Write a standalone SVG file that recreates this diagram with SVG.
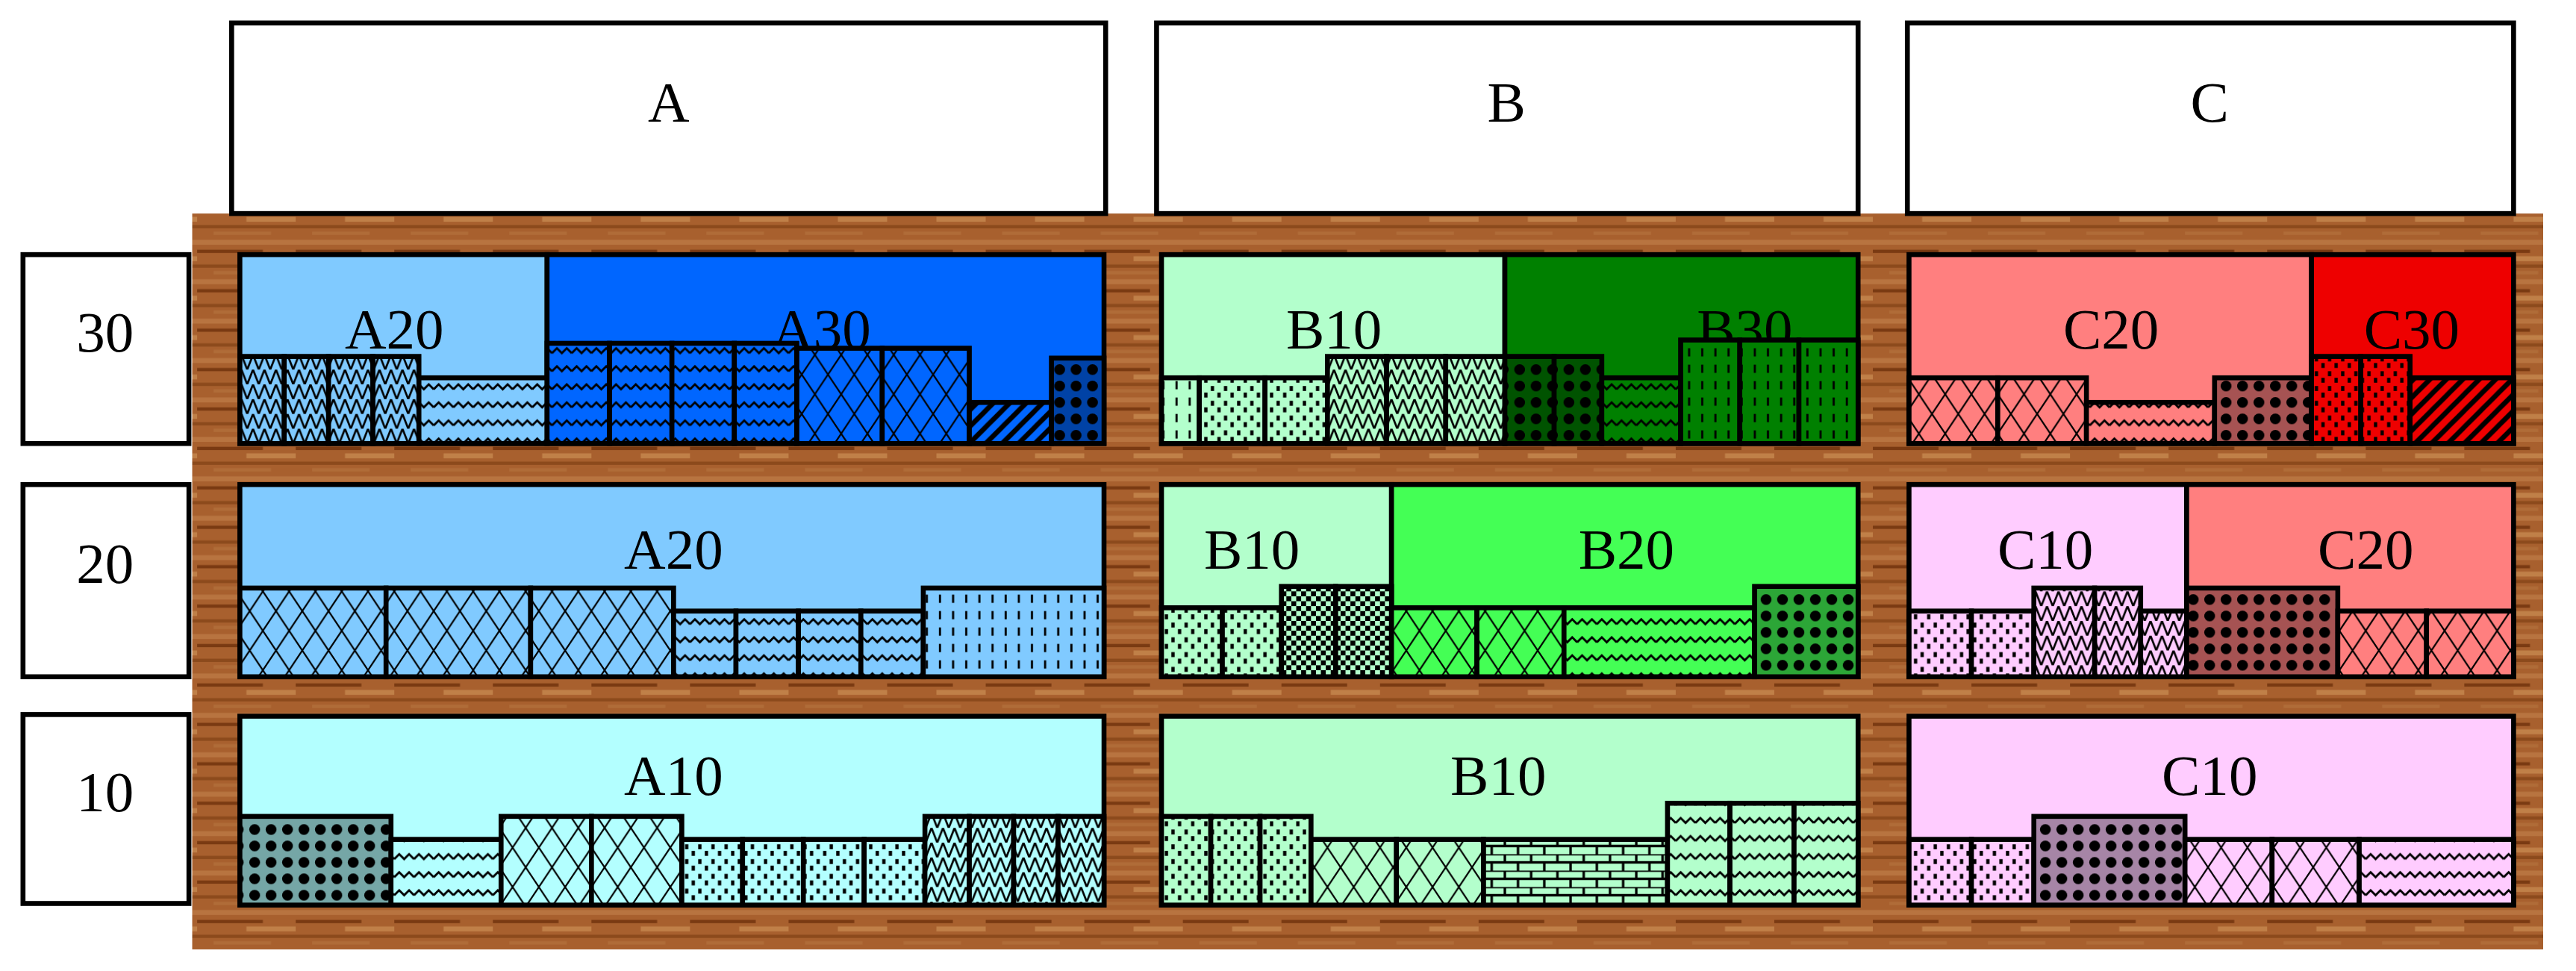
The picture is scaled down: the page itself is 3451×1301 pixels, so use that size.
<svg xmlns="http://www.w3.org/2000/svg" width="3451" height="1301" viewBox="0 0 3451 1301">
<style>
.hdr{fill:#fff;stroke:#000;stroke-width:3}
.t{font-family:"Liberation Serif",serif;font-size:35px;text-anchor:middle;fill:#000}
.b{stroke:#000;stroke-width:3}
.p{stroke:#000;stroke-width:2.5}
</style>
<defs>
<pattern id="wood" width="60" height="24" patternUnits="userSpaceOnUse">
<rect width="60" height="24" fill="#A8602E"/>
<rect y="2" width="60" height="3" fill="#B87440"/>
<rect y="8" width="40" height="2" fill="#7A3A12"/>
<rect x="30" y="12" width="30" height="3" fill="#C08048"/>
<rect y="17" width="60" height="2" fill="#8C4A1C"/>
<rect x="10" y="21" width="35" height="2" fill="#B06C38"/>
</pattern>
<pattern id="cross" width="16" height="24" patternUnits="userSpaceOnUse"><path d="M0,0L16,24M16,0L0,24" stroke="#000" stroke-width="1"/></pattern>
<pattern id="wave" width="12" height="11" patternUnits="userSpaceOnUse"><path d="M0,6L3,3L6,6L9,3L12,6" fill="none" stroke="#000" stroke-width="1.3"/></pattern>
<pattern id="zig" width="7" height="9" patternUnits="userSpaceOnUse"><path d="M0,0L3.5,9L7,0" fill="none" stroke="#000" stroke-width="1.2"/></pattern>
<pattern id="dots" width="8" height="9" patternUnits="userSpaceOnUse"><rect x="1" y="1" width="2" height="3"/><rect x="5" y="5" width="2" height="3"/></pattern>
<pattern id="dash" width="8" height="10" patternUnits="userSpaceOnUse"><rect x="3.5" y="2" width="1.3" height="5"/></pattern>
<pattern id="circ" width="10" height="10" patternUnits="userSpaceOnUse"><rect width="10" height="10" fill="#000" opacity="0.35"/><circle cx="5" cy="5" r="3.3"/></pattern>
<pattern id="check" width="6" height="6" patternUnits="userSpaceOnUse"><rect width="3" height="3"/><rect x="3" y="3" width="3" height="3"/></pattern>
<pattern id="brick" width="16" height="10" patternUnits="userSpaceOnUse"><path d="M0,0H16M0,5H16M4,0V5M12,5V10" stroke="#000" stroke-width="1.5"/></pattern>
<pattern id="diag" width="10" height="10" patternUnits="userSpaceOnUse"><path d="M-2,12L12,-2M8,12L12,8M-2,2L2,-2" stroke="#000" stroke-width="3"/></pattern>
</defs>
<g transform="scale(2.2009)">
<rect id="wood-bg" x="117" y="130" width="1431" height="448" fill="url(#wood)"/>
<g id="hdrA"><rect class="hdr" x="141" y="14" width="532" height="116"/><text class="t" x="407" y="74">A</text></g>
<g id="hdrB"><rect class="hdr" x="704" y="14" width="427" height="116"/><text class="t" x="917" y="74">B</text></g>
<g id="hdrC"><rect class="hdr" x="1161" y="14" width="369" height="116"/><text class="t" x="1345" y="74">C</text></g>
<g id="row30"><rect class="hdr" x="14" y="155" width="101" height="115"/><text class="t" x="64" y="214">30</text></g>
<g id="row20"><rect class="hdr" x="14" y="295" width="101" height="117"/><text class="t" x="64" y="355">20</text></g>
<g id="row10"><rect class="hdr" x="14" y="435" width="101" height="115"/><text class="t" x="64" y="494">10</text></g>

<g id="A-30">
<rect class="b" x="146" y="155" width="187" height="115" fill="#80CAFF"/>
<rect class="b" x="333" y="155" width="339" height="115" fill="#0066FF"/>
<text class="t" x="240" y="212">A20</text><text class="t" x="500" y="212">A30</text>
<g fill="#80CAFF" class="b">
<rect x="146" y="217" width="27" height="53"/><rect x="173" y="217" width="27" height="53"/><rect x="200" y="217" width="27" height="53"/><rect x="227" y="217" width="28" height="53"/>
<rect x="255" y="230" width="78" height="40"/></g>
<g fill="#0066FF" class="b">
<rect x="333" y="209" width="38" height="61"/><rect x="371" y="209" width="38" height="61"/><rect x="409" y="209" width="38" height="61"/><rect x="447" y="209" width="38" height="61"/>
<rect x="485" y="212" width="52" height="58"/><rect x="537" y="212" width="53" height="58"/><rect x="590" y="245" width="50" height="25"/><rect x="640" y="218" width="32" height="52"/></g>
<g class="p">
<rect x="146" y="217" width="27" height="53" fill="url(#zig)"/><rect x="173" y="217" width="27" height="53" fill="url(#zig)"/><rect x="200" y="217" width="27" height="53" fill="url(#zig)"/><rect x="227" y="217" width="28" height="53" fill="url(#zig)"/>
<rect x="255" y="230" width="78" height="40" fill="url(#wave)"/>
<rect x="333" y="209" width="38" height="61" fill="url(#wave)"/><rect x="371" y="209" width="38" height="61" fill="url(#wave)"/><rect x="409" y="209" width="38" height="61" fill="url(#wave)"/><rect x="447" y="209" width="38" height="61" fill="url(#wave)"/>
<rect x="485" y="212" width="52" height="58" fill="url(#cross)"/><rect x="537" y="212" width="53" height="58" fill="url(#cross)"/><rect x="590" y="245" width="50" height="25" fill="url(#diag)"/><rect x="640" y="218" width="32" height="52" fill="url(#circ)"/></g>
</g>
<g id="A-20">
<rect class="b" x="146" y="295" width="526" height="117" fill="#80CAFF"/>
<text class="t" x="410" y="346">A20</text>
<g fill="#80CAFF" class="b">
<rect x="146" y="358" width="89" height="54"/><rect x="235" y="358" width="88" height="54"/><rect x="323" y="358" width="87" height="54"/>
<rect x="410" y="372" width="38" height="40"/><rect x="448" y="372" width="38" height="40"/><rect x="486" y="372" width="38" height="40"/><rect x="524" y="372" width="38" height="40"/>
<rect x="562" y="358" width="110" height="54"/></g>
<g class="p">
<rect x="146" y="358" width="89" height="54" fill="url(#cross)"/><rect x="235" y="358" width="88" height="54" fill="url(#cross)"/><rect x="323" y="358" width="87" height="54" fill="url(#cross)"/>
<rect x="410" y="372" width="38" height="40" fill="url(#wave)"/><rect x="448" y="372" width="38" height="40" fill="url(#wave)"/><rect x="486" y="372" width="38" height="40" fill="url(#wave)"/><rect x="524" y="372" width="38" height="40" fill="url(#wave)"/>
<rect x="562" y="358" width="110" height="54" fill="url(#dash)"/></g>
</g>
<g id="A-10">
<rect class="b" x="146" y="436" width="526" height="115" fill="#B3FFFF"/>
<text class="t" x="410" y="484">A10</text>
<g fill="#B3FFFF" class="b">
<rect x="146" y="497" width="92" height="54"/><rect x="238" y="511" width="67" height="40"/><rect x="305" y="497" width="55" height="54"/><rect x="360" y="497" width="55" height="54"/>
<rect x="415" y="511" width="37" height="40"/><rect x="452" y="511" width="37" height="40"/><rect x="489" y="511" width="37" height="40"/><rect x="526" y="511" width="37" height="40"/>
<rect x="563" y="497" width="27" height="54"/><rect x="590" y="497" width="27" height="54"/><rect x="617" y="497" width="27" height="54"/><rect x="644" y="497" width="28" height="54"/></g>
<g class="p">
<rect x="146" y="497" width="92" height="54" fill="url(#circ)"/><rect x="238" y="511" width="67" height="40" fill="url(#wave)"/><rect x="305" y="497" width="55" height="54" fill="url(#cross)"/><rect x="360" y="497" width="55" height="54" fill="url(#cross)"/>
<rect x="415" y="511" width="37" height="40" fill="url(#dots)"/><rect x="452" y="511" width="37" height="40" fill="url(#dots)"/><rect x="489" y="511" width="37" height="40" fill="url(#dots)"/><rect x="526" y="511" width="37" height="40" fill="url(#dots)"/>
<rect x="563" y="497" width="27" height="54" fill="url(#zig)"/><rect x="590" y="497" width="27" height="54" fill="url(#zig)"/><rect x="617" y="497" width="27" height="54" fill="url(#zig)"/><rect x="644" y="497" width="28" height="54" fill="url(#zig)"/></g>
</g>

<g id="B-30">
<rect class="b" x="707" y="155" width="209" height="115" fill="#B3FFCC"/>
<rect class="b" x="916" y="155" width="215" height="115" fill="#008000"/>
<text class="t" x="812" y="212">B10</text><text class="t" x="1062" y="212">B30</text>
<g fill="#B3FFCC" class="b">
<rect x="707" y="230" width="23" height="40"/><rect x="730" y="230" width="40" height="40"/><rect x="770" y="230" width="38" height="40"/>
<rect x="808" y="217" width="36" height="53"/><rect x="844" y="217" width="36" height="53"/><rect x="880" y="217" width="36" height="53"/></g>
<g fill="#008000" class="b">
<rect x="916" y="217" width="30" height="53"/><rect x="946" y="217" width="29" height="53"/><rect x="975" y="230" width="48" height="40"/>
<rect x="1023" y="207" width="36" height="63"/><rect x="1059" y="207" width="36" height="63"/><rect x="1095" y="207" width="36" height="63"/></g>
<g class="p">
<rect x="707" y="230" width="23" height="40" fill="url(#dash)"/><rect x="730" y="230" width="40" height="40" fill="url(#dots)"/><rect x="770" y="230" width="38" height="40" fill="url(#dots)"/>
<rect x="808" y="217" width="36" height="53" fill="url(#zig)"/><rect x="844" y="217" width="36" height="53" fill="url(#zig)"/><rect x="880" y="217" width="36" height="53" fill="url(#zig)"/>
<rect x="916" y="217" width="30" height="53" fill="url(#circ)"/><rect x="946" y="217" width="29" height="53" fill="url(#circ)"/><rect x="975" y="230" width="48" height="40" fill="url(#wave)"/>
<rect x="1023" y="207" width="36" height="63" fill="url(#dash)"/><rect x="1059" y="207" width="36" height="63" fill="url(#dash)"/><rect x="1095" y="207" width="36" height="63" fill="url(#dash)"/></g>
</g>
<g id="B-20">
<rect class="b" x="707" y="295" width="140" height="117" fill="#B3FFCC"/>
<rect class="b" x="847" y="295" width="284" height="117" fill="#44FF55"/>
<text class="t" x="762" y="346">B10</text><text class="t" x="990" y="346">B20</text>
<g class="b">
<rect x="707" y="370" width="37" height="42" fill="#B3FFCC"/><rect x="744" y="370" width="36" height="42" fill="#B3FFCC"/><rect x="780" y="357" width="33" height="55" fill="#B3FFCC"/><rect x="813" y="357" width="34" height="55" fill="#B3FFCC"/>
<rect x="847" y="370" width="52" height="42" fill="#44FF55"/><rect x="899" y="370" width="53" height="42" fill="#44FF55"/><rect x="952" y="370" width="116" height="42" fill="#44FF55"/><rect x="1068" y="357" width="63" height="55" fill="#44FF55"/></g>
<g class="p">
<rect x="707" y="370" width="37" height="42" fill="url(#dots)"/><rect x="744" y="370" width="36" height="42" fill="url(#dots)"/><rect x="780" y="357" width="33" height="55" fill="url(#check)"/><rect x="813" y="357" width="34" height="55" fill="url(#check)"/>
<rect x="847" y="370" width="52" height="42" fill="url(#cross)"/><rect x="899" y="370" width="53" height="42" fill="url(#cross)"/><rect x="952" y="370" width="116" height="42" fill="url(#wave)"/><rect x="1068" y="357" width="63" height="55" fill="url(#circ)"/></g>
</g>
<g id="B-10">
<rect class="b" x="707" y="436" width="424" height="115" fill="#B3FFCC"/>
<text class="t" x="912" y="484">B10</text>
<g fill="#B3FFCC" class="b">
<rect x="707" y="497" width="30" height="54"/><rect x="737" y="497" width="30" height="54"/><rect x="767" y="497" width="31" height="54"/>
<rect x="798" y="511" width="52" height="40"/><rect x="850" y="511" width="53" height="40"/><rect x="903" y="511" width="112" height="40"/>
<rect x="1015" y="489" width="38" height="62"/><rect x="1053" y="489" width="39" height="62"/><rect x="1092" y="489" width="39" height="62"/></g>
<g class="p">
<rect x="707" y="497" width="30" height="54" fill="url(#dots)"/><rect x="737" y="497" width="30" height="54" fill="url(#dots)"/><rect x="767" y="497" width="31" height="54" fill="url(#dots)"/>
<rect x="798" y="511" width="52" height="40" fill="url(#cross)"/><rect x="850" y="511" width="53" height="40" fill="url(#cross)"/><rect x="903" y="511" width="112" height="40" fill="url(#brick)"/>
<rect x="1015" y="489" width="38" height="62" fill="url(#wave)"/><rect x="1053" y="489" width="39" height="62" fill="url(#wave)"/><rect x="1092" y="489" width="39" height="62" fill="url(#wave)"/></g>
</g>

<g id="C-30">
<rect class="b" x="1162" y="155" width="245" height="115" fill="#FF7F7F"/>
<rect class="b" x="1407" y="155" width="123" height="115" fill="#EE0000"/>
<text class="t" x="1285" y="212">C20</text><text class="t" x="1468" y="212">C30</text>
<g class="b">
<rect x="1162" y="230" width="54" height="40" fill="#FF7F7F"/><rect x="1216" y="230" width="54" height="40" fill="#FF7F7F"/><rect x="1270" y="245" width="78" height="25" fill="#FF7F7F"/><rect x="1348" y="230" width="59" height="40" fill="#FF7F7F"/>
<rect x="1407" y="217" width="30" height="53" fill="#EE0000"/><rect x="1437" y="217" width="30" height="53" fill="#EE0000"/><rect x="1467" y="230" width="63" height="40" fill="#EE0000"/></g>
<g class="p">
<rect x="1162" y="230" width="54" height="40" fill="url(#cross)"/><rect x="1216" y="230" width="54" height="40" fill="url(#cross)"/><rect x="1270" y="245" width="78" height="25" fill="url(#wave)"/><rect x="1348" y="230" width="59" height="40" fill="url(#circ)"/>
<rect x="1407" y="217" width="30" height="53" fill="url(#dots)"/><rect x="1437" y="217" width="30" height="53" fill="url(#dots)"/><rect x="1467" y="230" width="63" height="40" fill="url(#diag)"/></g>
</g>
<g id="C-20">
<rect class="b" x="1162" y="295" width="169" height="117" fill="#FFCCFF"/>
<rect class="b" x="1331" y="295" width="199" height="117" fill="#FF7F7F"/>
<text class="t" x="1245" y="346">C10</text><text class="t" x="1440" y="346">C20</text>
<g class="b">
<rect x="1162" y="372" width="38" height="40" fill="#FFCCFF"/><rect x="1200" y="372" width="38" height="40" fill="#FFCCFF"/><rect x="1238" y="358" width="37" height="54" fill="#FFCCFF"/><rect x="1275" y="358" width="28" height="54" fill="#FFCCFF"/><rect x="1303" y="372" width="28" height="40" fill="#FFCCFF"/>
<rect x="1331" y="358" width="92" height="54" fill="#FF7F7F"/><rect x="1423" y="372" width="54" height="40" fill="#FF7F7F"/><rect x="1477" y="372" width="53" height="40" fill="#FF7F7F"/></g>
<g class="p">
<rect x="1162" y="372" width="38" height="40" fill="url(#dots)"/><rect x="1200" y="372" width="38" height="40" fill="url(#dots)"/><rect x="1238" y="358" width="37" height="54" fill="url(#zig)"/><rect x="1275" y="358" width="28" height="54" fill="url(#zig)"/><rect x="1303" y="372" width="28" height="40" fill="url(#zig)"/>
<rect x="1331" y="358" width="92" height="54" fill="url(#circ)"/><rect x="1423" y="372" width="54" height="40" fill="url(#cross)"/><rect x="1477" y="372" width="53" height="40" fill="url(#cross)"/></g>
</g>
<g id="C-10">
<rect class="b" x="1162" y="436" width="368" height="115" fill="#FFCCFF"/>
<text class="t" x="1345" y="484">C10</text>
<g fill="#FFCCFF" class="b">
<rect x="1162" y="511" width="38" height="40"/><rect x="1200" y="511" width="38" height="40"/><rect x="1238" y="497" width="92" height="54"/>
<rect x="1330" y="511" width="53" height="40"/><rect x="1383" y="511" width="53" height="40"/><rect x="1436" y="511" width="94" height="40"/></g>
<g class="p">
<rect x="1162" y="511" width="38" height="40" fill="url(#dots)"/><rect x="1200" y="511" width="38" height="40" fill="url(#dots)"/><rect x="1238" y="497" width="92" height="54" fill="url(#circ)"/>
<rect x="1330" y="511" width="53" height="40" fill="url(#cross)"/><rect x="1383" y="511" width="53" height="40" fill="url(#cross)"/><rect x="1436" y="511" width="94" height="40" fill="url(#wave)"/></g>
</g>
</g>
</svg>
